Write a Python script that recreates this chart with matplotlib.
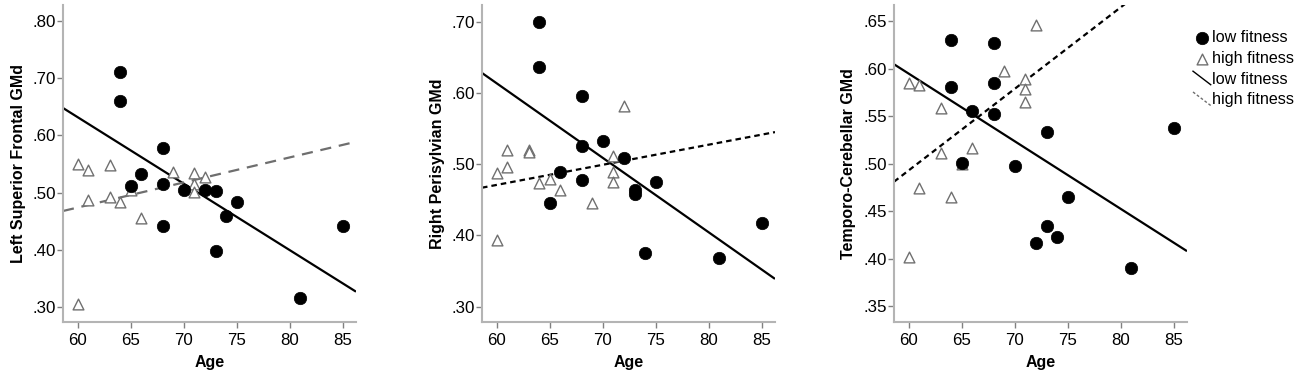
import matplotlib
matplotlib.use("Agg")
import matplotlib.pyplot as plt
from matplotlib.ticker import FuncFormatter, FixedLocator
from matplotlib.legend_handler import HandlerBase
from matplotlib.lines import Line2D

plt.rcParams['font.family'] = ['Liberation Sans', 'DejaVu Sans']

# ---------------- data ----------------
ages_low = [64, 64, 65, 66, 68, 68, 68, 70, 72, 73, 73, 74, 75, 81, 85]
ages_high = [60, 60, 61, 61, 63, 63, 64, 65, 66, 69, 71, 71, 71, 72]

p1_low = [.711, .661, .512, .532, .578, .515, .442, .505, .504, .503, .398, .459, .484, .316, .441]
p1_high = [.551, .305, .539, .487, .549, .493, .484, .504, .455, .537, .534, .516, .501, .528]

p2_low = [.699, .637, .446, .489, .596, .525, .478, .533, .508, .464, .458, .375, .475, .368, .418]
p2_high = [.487, .394, .520, .496, .520, .517, .473, .479, .464, .445, .511, .489, .475, .582]

p3_low = [.630, .581, .501, .555, .627, .585, .552, .497, .417, .533, .434, .423, .465, .390, .538]
p3_high = [.585, .402, .583, .474, .558, .511, .465, .500, .516, .597, .589, .578, .565, .646]

fit_x = [58.6, 86.25]
p1_fit_low = [.648, .327]
p1_fit_high = [.468, .589]
p2_fit_low = [.628, .339]
p2_fit_high = [.467, .545]
p3_fit_low = [.6045, .408]
p3_fit_high = [.481, .718]

ylabels = ["Left Superior Frontal GMd", "Right Perisylvian GMd", "Temporo-Cerebellar GMd"]
xticks = [60, 65, 70, 75, 80, 85]
p1_yticks = [.30, .40, .50, .60, .70, .80]
p2_yticks = [.30, .40, .50, .60, .70]
p3_yticks = [.35, .40, .45, .50, .55, .60, .65]
ylims = [(0.274, 0.828), (0.2785, 0.7234), (0.3335, 0.6668)]
legend_labels = ["low fitness", "high fitness", "low fitness", "high fitness"]

# ---------------- figure ----------------
fig = plt.figure(figsize=(13, 3.79), dpi=100)
lefts = [63 / 1300, 482 / 1300, 894 / 1300]
bottom = 57 / 379
width = 293 / 1300
height = 317 / 379

spine_col = '#b4b4b4'
fs_tick = 12.2
fs_lab = 11.5
fs_leg = 11.6

panels = [
    (p1_low, p1_high, p1_fit_low, p1_fit_high, p1_yticks, '#6e6e6e', (0, (5, 3.5))),
    (p2_low, p2_high, p2_fit_low, p2_fit_high, p2_yticks, 'black', (0, (2.5, 1.8))),
    (p3_low, p3_high, p3_fit_low, p3_fit_high, p3_yticks, 'black', (0, (2.5, 1.8))),
]

handles = None
for i, (low, high, fl, fh, yt, dcol, dstyle) in enumerate(panels):
    ax = fig.add_axes([lefts[i], bottom, width, height])
    l1, = ax.plot(fit_x, fl, color='black', lw=1.6, solid_capstyle='butt', zorder=2)
    l2, = ax.plot(fit_x, fh, color=dcol, lw=1.6, linestyle=dstyle, zorder=2)
    s2 = ax.scatter(ages_high, high, marker='^', s=60, facecolor='white',
                    edgecolor='#707070', linewidths=1.0, zorder=3)
    s1 = ax.scatter(ages_low, low, marker='o', s=80, facecolor='black',
                    edgecolor='black', linewidths=0.5, zorder=4)
    if handles is None:
        handles = [s1, s2, l1, l2]
    ax.set_xlim(fit_x)
    ax.set_ylim(ylims[i])
    ax.xaxis.set_major_locator(FixedLocator(xticks))
    ax.yaxis.set_major_locator(FixedLocator(yt))
    ax.yaxis.set_major_formatter(FuncFormatter(lambda v, p: f"{v:.2f}".lstrip('0')))
    for sp in ['top', 'right']:
        ax.spines[sp].set_visible(False)
    for sp in ['left', 'bottom']:
        ax.spines[sp].set_color(spine_col)
        ax.spines[sp].set_linewidth(1.5)
    ax.tick_params(axis='both', colors='#808080', labelcolor='black', length=4,
                   width=1, labelsize=fs_tick, pad=1)
    ax.tick_params(axis='x', pad=4)
    ax.set_xlabel("Age", fontsize=fs_lab, fontweight='bold', labelpad=5)
    ax.set_ylabel(ylabels[i], fontsize=fs_lab, fontweight='bold', labelpad=5)


class DiagHandler(HandlerBase):
    def create_artists(self, legend, orig_handle, xdescent, ydescent, width, height, fontsize, trans):
        line = Line2D([-xdescent, -xdescent + width], [-ydescent + height * 1.1, -ydescent - height * 0.1],
                      color=orig_handle.get_color(), linestyle=orig_handle.get_linestyle(),
                      linewidth=1.0, transform=trans)
        if orig_handle.get_linestyle() != '-':
            line.set_dashes((2, 1.5))
        return [line]


fig.legend(handles, legend_labels, loc='upper left', bbox_to_anchor=(1193 / 1300, 1 - 30 / 379),
           frameon=False, fontsize=fs_leg, handlelength=1.1, handletextpad=0.1,
           labelspacing=0.36, borderaxespad=0, borderpad=0, scatterpoints=1,
           handler_map={Line2D: DiagHandler()})

fig.savefig("out.png", dpi=100)
